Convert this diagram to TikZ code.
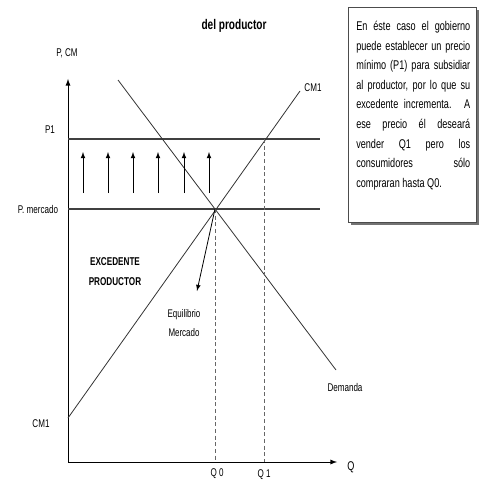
\documentclass[tikz,border=0pt]{standalone}
\usepackage{fontspec}
\setmainfont[FakeStretch=0.72]{Liberation Sans}
\tikzset{
  lbl/.style={inner sep=0pt, font=\fontsize{8.4}{10}\selectfont},
  titulo/.style={inner sep=0pt, font=\fontsize{10.5}{12}\selectfont\bfseries},
  eje/.style={line width=0.7pt, -latex},
  curva/.style={line width=0.6pt, black!80},
  precio/.style={line width=1pt, black!75},
  guia/.style={line width=0.6pt, black!60, dash pattern=on 3pt off 2pt},
  flecha/.style={line width=0.6pt, -latex},
}
\begin{document}
\begin{tikzpicture}[x=0.75pt,y=-0.75pt]
  \useasboundingbox (0,0) rectangle (480,481);
  % ejes
  \coordinate (O) at (68,462);
  \coordinate (ytop) at (68,79);
  \coordinate (xend) at (337,462);
  \draw[eje] (O) -- (ytop);
  \draw[eje] (O) -- (xend);
  \node[lbl] (pcm) at (67,53) {P, CM};
  \node[lbl, font=\fontsize{9.5}{11}\selectfont] (q) at (351,467) {Q};
  % precios
  \coordinate (p1a) at (68,139);
  \coordinate (p1b) at (320,139);
  \coordinate (pma) at (68,209);
  \coordinate (pmb) at (320,209);
  \draw[precio] (p1a) -- (p1b);
  \draw[precio] (pma) -- (pmb);
  \node[lbl] (p1) at (50,130) {P1};
  \node[lbl] (pm) at (38,209) {P. mercado};
  % curvas
  \coordinate (dA) at (118,80);
  \coordinate (dB) at (336,370);
  \coordinate (sA) at (68,418);
  \coordinate (sB) at (300,91);
  \coordinate (E) at (215,209);
  \draw[curva] (dA) -- (dB);
  \draw[curva] (sA) -- (sB);
  \node[lbl] (cm1a) at (313,88) {CM1};
  \node[lbl] (cm1b) at (41,424) {CM1};
  \node[lbl] (dem) at (345,387) {Demanda};
  % cantidades
  \coordinate (q0a) at (215,209);
  \coordinate (q0b) at (215,462);
  \coordinate (q1a) at (264,139);
  \coordinate (q1b) at (264,462);
  \draw[guia] (q0a) -- (q0b);
  \draw[guia] (q1a) -- (q1b);
  \node[lbl] (q0) at (217,474) {Q 0};
  \node[lbl] (q1) at (264,475) {Q 1};
  % subsidio
  \foreach \x [count=\i] in {83,108,133,158,184,209}{
    \coordinate (up\i) at (\x,193);
    \coordinate (upt\i) at (\x,152);
    \draw[flecha] (up\i) -- (upt\i);
  }
  % equilibrio
  \coordinate (eqt) at (197,291);
  \draw[flecha] (E) -- (eqt);
  \node[lbl, align=center, font=\fontsize{8.3}{14.3}\selectfont] (eq) at (184,323) {Equilibrio\\Mercado};
  \node[lbl, align=center, font=\fontsize{8.5}{15}\selectfont\bfseries] (exc) at (115,272) {EXCEDENTE\\PRODUCTOR};
  \node[titulo] (tit) at (234,26) {del productor};
  % nota
  \fill[black!55] (351,10) rectangle (479,225);
  \draw[fill=white, line width=0.5pt, draw=black!70] (348,7) rectangle (476,222);
  \node[anchor=north west, inner sep=0pt, text width=85.5pt, align=justify,
        font=\fontsize{9.5}{14.7}\selectfont] (nota) at (356,21)
  {En éste caso el gobierno\linebreak
   puede establecer un precio\linebreak
   mínimo (P1) para subsidiar\linebreak
   al productor, por lo que su\linebreak
   excedente incrementa. A\linebreak
   ese precio él deseará\linebreak
   vender Q1 pero los\linebreak
   consumidores sólo\linebreak
   compraran hasta Q0.};
\end{tikzpicture}
\end{document}
